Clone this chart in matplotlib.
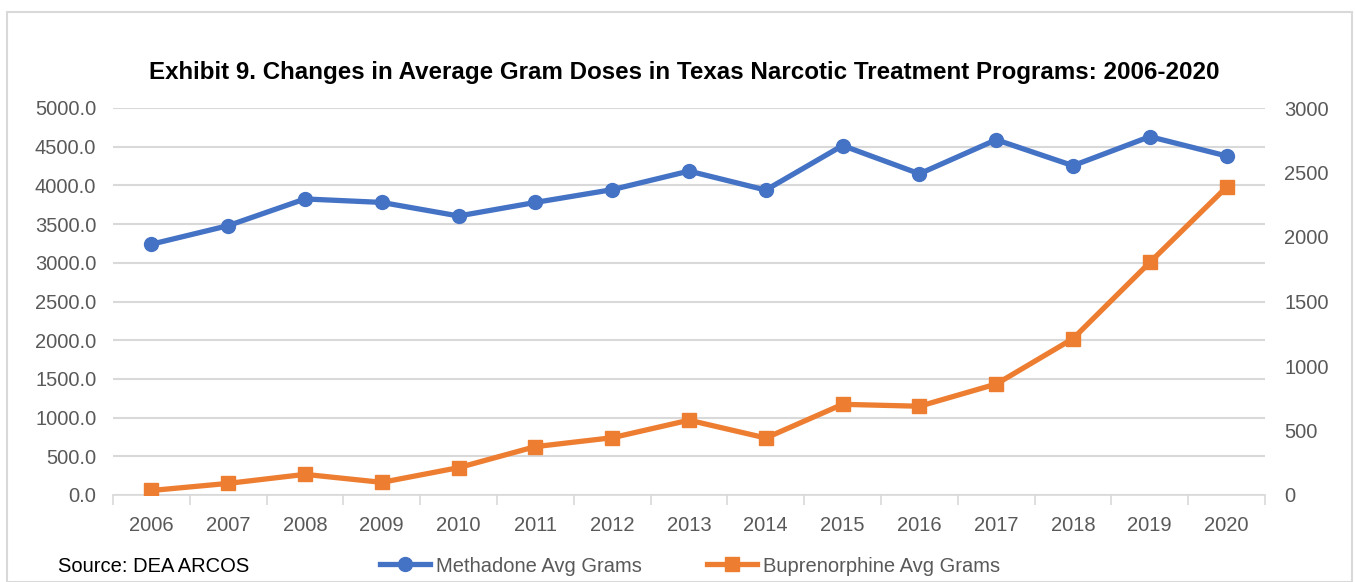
import matplotlib.pyplot as plt
from matplotlib.patches import Rectangle
from matplotlib.lines import Line2D

years = ['2006', '2007', '2008', '2009', '2010', '2011', '2012', '2013',
         '2014', '2015', '2016', '2017', '2018', '2019', '2020']
methadone = [3240, 3480, 3825, 3780, 3605, 3780, 3945, 4185,
             3940, 4515, 4150, 4590, 4255, 4630, 4380]
buprenorphine = [35, 90, 160, 98, 212, 375, 444, 580,
                 442, 703, 688, 860, 1212, 1803, 2387]

blue = '#4472C4'
orange = '#ED7D31'
grey = '#595959'

plt.rcParams['font.family'] = ['Liberation Sans', 'DejaVu Sans']

fig = plt.figure(figsize=(13.56, 5.82), dpi=100)
ax = fig.add_axes([113/1356, 1 - 495/582, 1152/1356, 387/582])
ax2 = ax.twinx()

x = list(range(len(years)))
ax.plot(x, methadone, color=blue, lw=3.8, marker='o', ms=10, zorder=3)
ax2.plot(x, buprenorphine, color=orange, lw=3.8, marker='s', ms=10, zorder=3)

ax.set_ylim(0, 5000)
ax.set_yticks(range(0, 5001, 500))
ax.set_yticklabels([f'{v:.1f}' for v in range(0, 5001, 500)])
ax2.set_ylim(0, 3000)
ax2.set_yticks(range(0, 3001, 500))

ax.set_xlim(-0.5, len(years) - 0.5)
ax.set_xticks(x)
ax.set_xticklabels(years)
ax.set_xticks([i - 0.5 for i in range(len(years) + 1)], minor=True)
ax.tick_params(axis='x', which='major', length=0, pad=15)
ax.tick_params(axis='x', which='minor', length=7, color='#D9D9D9', width=1.2)
ax.tick_params(axis='y', length=0, pad=12)
ax2.tick_params(axis='y', length=0, pad=14)
for a in (ax, ax2):
    a.tick_params(labelsize=14.5, labelcolor=grey)
    for s in ['top', 'left', 'right', 'bottom']:
        a.spines[s].set_visible(False)
ax.spines['bottom'].set_visible(True)
ax.spines['bottom'].set_color('#D9D9D9')
ax.spines['bottom'].set_linewidth(1.2)

ax.grid(axis='y', color='#D9D9D9', lw=1.5)
ax.set_axisbelow(True)

fig.text(684/1356, 1 - 72/582, 'Exhibit 9. Changes in Average Gram Doses in Texas Narcotic Treatment Programs: 2006-2020',
         ha='center', va='center', fontsize=17.4, fontweight='bold', color='black')

fig.text(58/1356, 1 - 566/582, 'Source: DEA ARCOS', ha='left', va='center', fontsize=14.5, color='black')

handles = [Line2D([], [], color=blue, lw=3.8, marker='o', ms=10),
           Line2D([], [], color=orange, lw=3.8, marker='s', ms=10)]
fig.legend(handles, ['Methadone Avg Grams', 'Buprenorphine Avg Grams'], ncol=2,
           loc='center', bbox_to_anchor=(690/1356, 1 - 566/582), frameon=False,
           fontsize=14.5, labelcolor=grey, handlelength=2.5, handletextpad=0.3,
           columnspacing=3.2)

fig.patches.append(Rectangle((7/1356, 0), 1345/1356, 1 - 12/582, transform=fig.transFigure,
                             fill=False, edgecolor='#D9D9D9', lw=1.5))

fig.savefig('out.png', dpi=100)
